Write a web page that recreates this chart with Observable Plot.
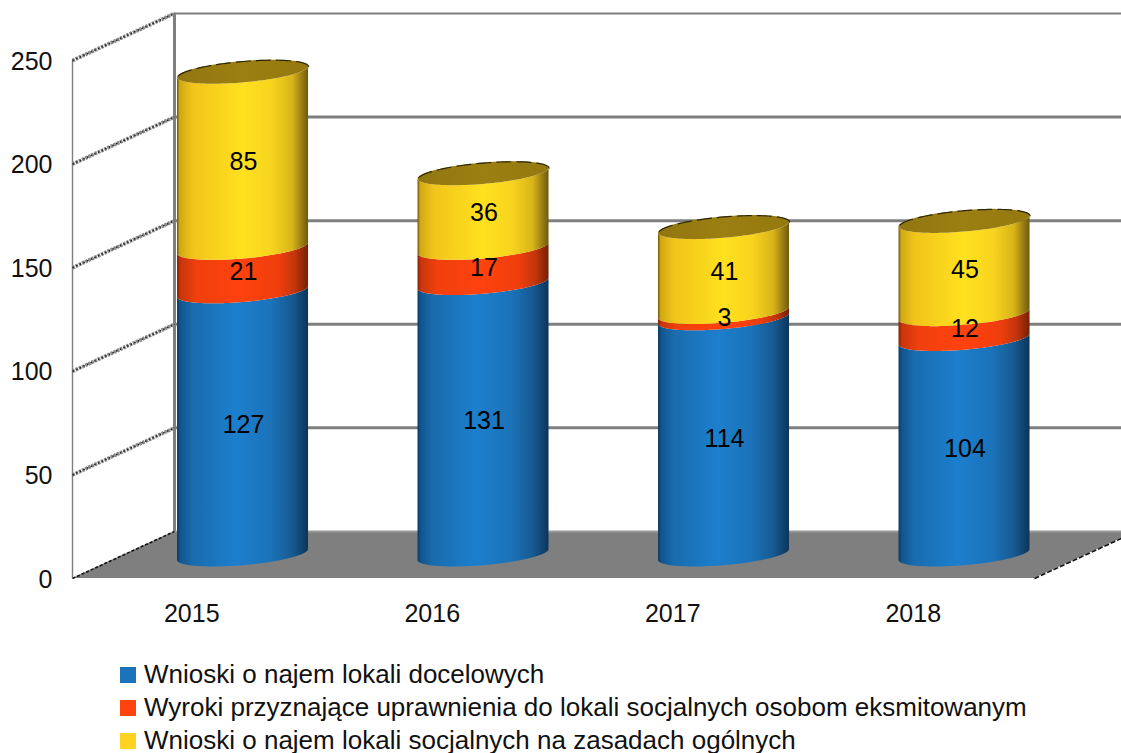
<!DOCTYPE html>
<html lang="pl">
<head>
<meta charset="utf-8">
<script src="https://cdn.jsdelivr.net/npm/d3@7"></script>
<script src="https://cdn.jsdelivr.net/npm/@observablehq/plot@0.6"></script>
<style>
html,body{margin:0;padding:0;background:#fff;overflow:hidden;width:1121px;height:753px}
svg{display:block;font-family:"Liberation Sans",Arial,sans-serif}
#legend{position:absolute;left:120px;top:658px;font:26px/33px "Liberation Sans",Arial,sans-serif;color:#111}
#legend div{display:flex;align-items:center;height:33px;white-space:nowrap}
#legend i{display:block;width:16px;height:16px;margin-right:8px}
</style>
</head>
<body>
<div id="chart"></div>
<div id="legend"></div>
<script>
const years = [2015, 2016, 2017, 2018];
const seriesNames = [
  "Wnioski o najem lokali docelowych",
  "Wyroki przyznające uprawnienia do lokali socjalnych osobom eksmitowanym",
  "Wnioski o najem lokali socjalnych na zasadach ogólnych"
];
const docelowe = [127, 131, 114, 104];
const wyroki = [21, 17, 3, 12];
const ogolne = [85, 36, 41, 45];
const yTicks = [0, 50, 100, 150, 200, 250];
const legendColors = ["#1a72bb", "#ff420e", "#ffd320"];

// 3D projection, expressed in the units of the x (years) and y (values) scales
const depthX = 0.4241, depthY = 22.7;
const radius = 0.2724, ellipseB = 5.16, tilt = 2.65;
const x0 = 2014.5, x1 = 2018.5;
const cylShift = -0.003;

const series = [docelowe, wyroki, ogolne];
const gradIds = ["gBlue", "gOrange", "gYellow"];
const angles = d3.range(0, 61).map(i => Math.PI * i / 60);

const rows = [];
years.forEach((year, i) => {
  let base = 0;
  series.forEach((vals, s) => {
    rows.push({year, s, value: vals[i], lo: base, hi: base + vals[i]});
    base += vals[i];
  });
});
const totals = years.map((year, i) => ({year, total: docelowe[i] + wyroki[i] + ogolne[i]}));

const cx = y => y + depthX / 2 + cylShift;
const edge = (v, t) => v + depthY / 2 - ellipseB * Math.sin(t) + tilt * Math.cos(t);
const topEdge = (v, t) => v + depthY / 2 + ellipseB * Math.sin(t) + tilt * Math.cos(t);

const bodyPts = s => rows.filter(r => r.s === s).flatMap(r => angles.map(t => ({
  year: r.year,
  x: cx(r.year) + radius * Math.cos(t),
  y1: edge(r.lo, t),
  y2: edge(r.hi, t)
})));
const capPts = totals.flatMap(r => angles.map(t => ({
  year: r.year,
  x: cx(r.year) + radius * Math.cos(t),
  y1: edge(r.total, t),
  y2: topEdge(r.total, t)
})));

function stops(list) {
  return list.map(([o, c]) => `<stop offset="${o}" stop-color="${c}"/>`).join("");
}
const defsMark = () => {
  const d = d3.create("svg:defs");
  const grad = (id, list) => `<linearGradient id="${id}" x1="0" x2="1" y1="0" y2="0">${stops(list)}</linearGradient>`;
  d.html(
    grad("gBlue", [[0,"#0c3a62"],[0.025,"#12558e"],[0.12,"#196cae"],[0.45,"#1c7fce"],[0.72,"#1b72b8"],[0.88,"#175a92"],[1,"#0c3559"]]) +
    grad("gOrange", [[0,"#7e2207"],[0.025,"#c8360b"],[0.15,"#f0400d"],[0.5,"#ff420e"],[0.78,"#ee3e0d"],[0.9,"#c2350b"],[1,"#752006"]]) +
    grad("gYellow", [[0,"#6a5508"],[0.02,"#d0a814"],[0.12,"#f2c41a"],[0.5,"#ffe11f"],[0.72,"#f8d41e"],[0.88,"#d8b41a"],[1,"#6e5a0e"]]) +
    grad("gCap", [[0,"#917610"],[0.5,"#9c7f12"],[1,"#94790f"]])
  );
  return d.node();
};

const wallLine = "#7f7f7f";
const plot = Plot.plot({
  width: 1121,
  height: 650,
  marginLeft: 72,
  marginRight: 87,
  marginTop: 60,
  marginBottom: 72,
  x: {domain: [x0, x1]},
  y: {domain: [0, 250]},
  marks: [
    defsMark,
    // floor
    Plot.areaY([
      {x: x0, y1: 0, y2: 0},
      {x: x0 + depthX, y1: 0, y2: depthY},
      {x: x1, y1: 0, y2: depthY},
      {x: x1 + depthX, y1: depthY, y2: depthY}
    ], {x: "x", y1: "y1", y2: "y2", fill: "#7f7f7f"}),
    // back wall
    Plot.ruleY(yTicks.slice(1), {y: d => d + depthY, x1: x0 + depthX, x2: x1 + depthX, stroke: wallLine, strokeWidth: d => d === 250 ? 2 : 3}),
    Plot.ruleY([0], {y: d => d + depthY, x1: x0 + depthX, x2: x1 + depthX, stroke: "#9a9a9a", strokeWidth: 2}),
    Plot.ruleX([x0 + depthX], {y1: depthY, y2: 250 + depthY, stroke: wallLine, strokeWidth: 3}),
    // front left edge of the side wall
    Plot.ruleX([x0], {y1: 0, y2: 250, stroke: wallLine, strokeWidth: 1.4}),
    // side wall lines
    Plot.link(yTicks.slice(1), {x1: x0, x2: x0 + depthX, y1: d => d, y2: d => d + depthY, stroke: "#8c8c8c", strokeWidth: 3.8, strokeDasharray: "2.5 1"}),
    Plot.link(yTicks.slice(1), {x1: x0, x2: x0 + depthX, y1: d => d, y2: d => d + depthY, stroke: "#222", strokeWidth: 1.6, strokeDasharray: "1.5 2.5"}),
    // floor jagged edges
    Plot.link([0], {x1: x0, x2: x0 + depthX, y1: 0, y2: depthY, stroke: "#111", strokeWidth: 1.6, strokeDasharray: "3 2"}),
    Plot.link([0], {x1: x1, x2: x1 + depthX, y1: 0, y2: depthY, stroke: "#111", strokeWidth: 1.6, strokeDasharray: "5 2"}),
    // cylinder bodies
    ...series.map((_, s) => Plot.areaY(bodyPts(s), {x: "x", y1: "y1", y2: "y2", z: "year", fill: `url(#${gradIds[s]})`})),
    // cylinder caps
    Plot.areaY(capPts, {x: "x", y1: "y1", y2: "y2", z: "year", fill: "url(#gCap)"}),
    Plot.line(capPts, {x: "x", y: "y2", z: "year", stroke: "#2c2608", strokeWidth: 1.2, strokeDasharray: "14 6"}),
    // value labels
    Plot.text(rows, {
      x: d => cx(d.year),
      y: d => (d.lo + d.hi) / 2 + depthY / 2,
      text: d => String(d.value),
      fontSize: 25,
      fill: "#000",
      dy: 2,
      dx: 0.5,
      lineAnchor: "middle"
    }),
    // axes
    Plot.axisY({ticks: yTicks, anchor: "left", tickSize: 0, tickPadding: 20, fontSize: 25, fill: "#111", label: null, dy: 1, tickFormat: d => String(d)}),
    Plot.axisX({ticks: years, anchor: "bottom", tickSize: 0, tickPadding: 26, fontSize: 25, fill: "#111", label: null, dx: -1, tickFormat: d => String(d)})
  ]
});
document.getElementById("chart").append(plot);

const legend = d3.select("#legend");
seriesNames.forEach((name, i) => {
  const row = legend.append("div");
  row.append("i").style("background", legendColors[i]);
  row.append("span").text(name);
});
</script>
</body>
</html>
